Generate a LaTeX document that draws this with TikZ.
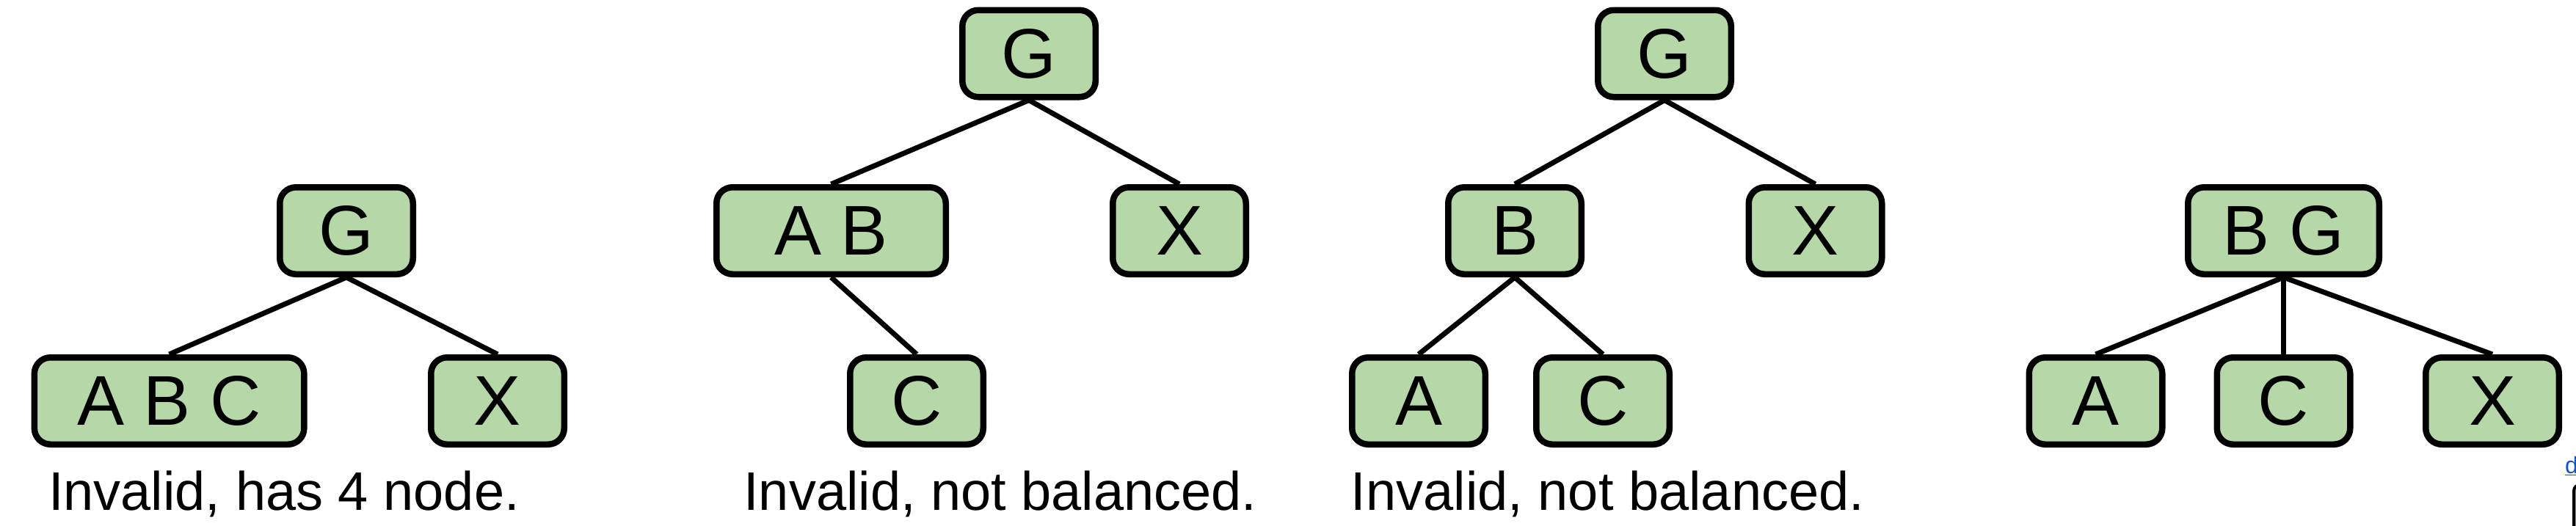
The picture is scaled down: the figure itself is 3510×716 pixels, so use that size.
\documentclass[tikz,border=0pt]{standalone}
\usepackage{fontspec}
\setmainfont{Liberation Sans}
\definecolor{boxgreen}{HTML}{B6D7A8}
\definecolor{linkblue}{HTML}{1155CC}
\definecolor{widgetgray}{HTML}{A4A8A4}
\begin{document}
\begin{tikzpicture}[x=1pt,y=-1pt,
  box/.style={draw=black, line width=8.5pt, fill=boxgreen, rounded corners=22pt,
    inner sep=0pt, minimum height=118.5pt, minimum width=181.5pt,
    font=\fontsize{96}{96}\selectfont},
  link/.style={line width=7pt, black},
  capt/.style={anchor=base, inner sep=0pt, font=\fontsize{74}{74}\selectfont}
]
\clip (0,0) rectangle (3510,716);
\useasboundingbox (0,0) rectangle (3510,716);

% Tree 1
\node[box] (t1g) at (472,314.5) {G};
\node[box, minimum width=367.5pt] (t1abc) at (230.6,546.5) {A B C};
\node[box] (t1x) at (678,546.5) {X};
\draw[link] (t1g.south) -- (t1abc.north);
\draw[link] (t1g.south) -- (t1x.north);
\node[capt] (t1cap) at (387,695) {Invalid, has 4 node.};

% Tree 2
\node[box] (t2g) at (1402,73) {G};
\node[box, minimum width=312.5pt] (t2ab) at (1132.5,314.5) {A B};
\node[box] (t2x) at (1607,314.5) {X};
\node[box] (t2c) at (1249,546.5) {C};
\draw[link] (t2g.south) -- (t2ab.north);
\draw[link] (t2g.south) -- (t2x.north);
\draw[link] (t2ab.south) -- (t2c.north);
\node[capt] (t2cap) at (1363,695) {Invalid, not balanced.};

% Tree 3
\node[box] (t3g) at (2268,73) {G};
\node[box] (t3b) at (2064,314.5) {B};
\node[box] (t3x) at (2473.5,314.5) {X};
\node[box] (t3a) at (1933,546.5) {A};
\node[box] (t3c) at (2184,546.5) {C};
\draw[link] (t3g.south) -- (t3b.north);
\draw[link] (t3g.south) -- (t3x.north);
\draw[link] (t3b.south) -- (t3a.north);
\draw[link] (t3b.south) -- (t3c.north);
\node[capt] (t3cap) at (2190.5,695) {Invalid, not balanced.};

% Tree 4
\node[box, minimum width=260.5pt] (t4bg) at (3111.5,314.5) {B G};
\node[box] (t4a) at (2855.5,546.5) {A};
\node[box] (t4c) at (3111.5,546.5) {C};
\node[box] (t4x) at (3396,546.5) {X};
\draw[link] (t4bg.south) -- (t4a.north);
\draw[link] (t4bg.south) -- (t4c.north);
\draw[link] (t4bg.south) -- (t4x.north);

% corner artifacts
\node[anchor=base west, inner sep=0pt, text=linkblue, font=\fontsize{32}{32}\selectfont] (dlink) at (3495,645) {\underline{d}};
\draw[draw=black, line width=4pt, fill=widgetgray, rounded corners=8pt] (3507,661) rectangle (3560,780);
\end{tikzpicture}
\end{document}
